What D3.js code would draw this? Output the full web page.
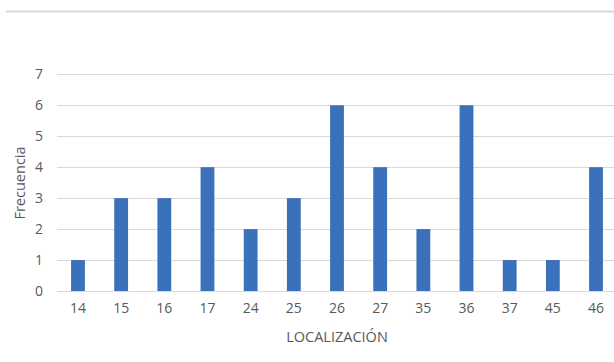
<!DOCTYPE html>
<html><head><meta charset="utf-8">
<script src="https://cdn.jsdelivr.net/npm/d3@7"></script>
<style>body{margin:0;background:#fff;}svg{display:block;}</style>
</head><body><svg id="c" width="614" height="362"></svg>
<script>
const categories = ["14","15","16","17","24","25","26","27","35","36","37","45","46"];
const values = [1,3,3,4,2,3,6,4,2,6,1,1,4];
const yTicks = [0,1,2,3,4,5,6,7];
const xTitle = "LOCALIZACIÓN";
const yTitle = "Frecuencia";

const svg = d3.select("#c");
const ff = "'Open Sans', sans-serif";
svg.append("rect").attr("width",614).attr("height",362).attr("fill","#fff");
svg.append("line").attr("x1",6).attr("x2",614).attr("y1",11.5).attr("y2",11.5)
  .attr("stroke","#d6dada").attr("stroke-width",2);

const x = d3.scaleBand().domain(categories).range([56.4,617.6]).paddingInner(0.68).paddingOuter(0.34);
const y = d3.scaleLinear().domain([0,7]).range([291,74.3]);

const grid = svg.append("g");
yTicks.forEach(t=>{
  grid.append("line").attr("x1",57).attr("x2",614).attr("y1",Math.round(y(t))+0.5).attr("y2",Math.round(y(t))+0.5)
    .attr("stroke","#d9d9d9").attr("stroke-width",1);
});

const yAxis = d3.axisLeft(y).tickValues(yTicks).tickFormat(d3.format("d")).tickSize(0).tickPadding(0);
const ga = svg.append("g").attr("transform","translate(43,0)").call(yAxis);
ga.select(".domain").remove();
ga.selectAll("text").attr("font-family",ff).attr("font-size",14).attr("fill","#595959");

svg.append("g").selectAll("rect").data(values).join("rect")
  .attr("x",(d,i)=>x(categories[i]))
  .attr("width",x.bandwidth())
  .attr("y",d=>y(d)).attr("height",d=>y(0)-y(d))
  .attr("fill","#3b70ba");

const xAxis = d3.axisBottom(x).tickSize(0).tickPadding(12);
const gx = svg.append("g").attr("transform","translate(0,"+y(0)+")").call(xAxis);
gx.select(".domain").remove();
gx.selectAll("text").attr("font-family",ff).attr("font-size",14).attr("fill","#595959");

svg.append("text").attr("x",337).attr("y",342).attr("text-anchor","middle")
  .attr("font-family",ff).attr("font-size",14.5).attr("fill","#595959").text(xTitle);
svg.append("text").attr("transform","translate(25,183) rotate(-90)").attr("text-anchor","middle")
  .attr("font-family",ff).attr("font-size",14.5).attr("fill","#595959").text(yTitle);
</script></body></html>
